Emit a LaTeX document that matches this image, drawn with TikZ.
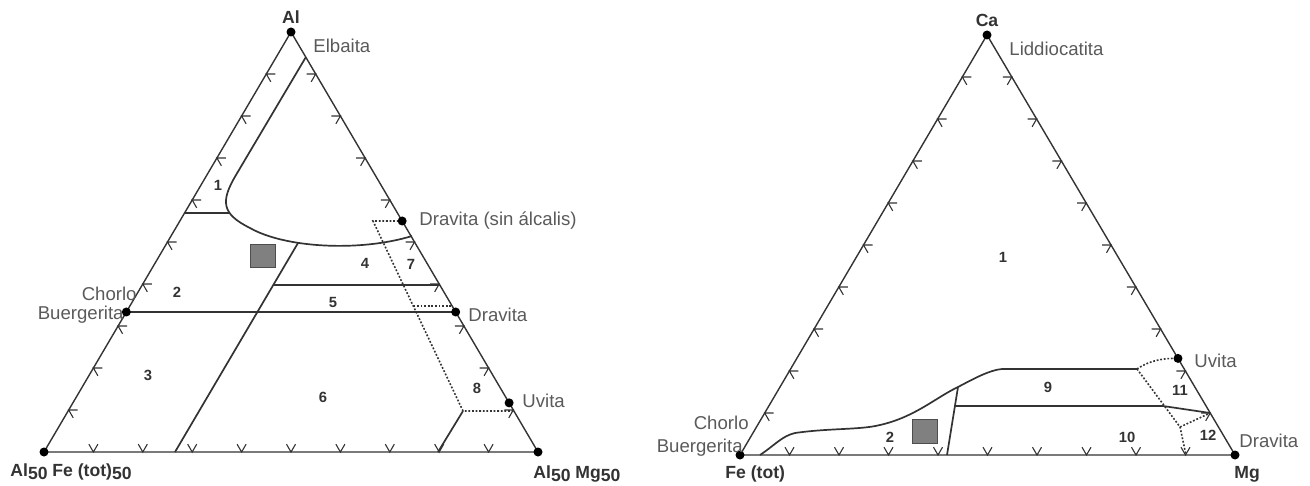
\documentclass[tikz,border=0pt]{standalone}
\usepackage{fontspec}
\setmainfont{Liberation Sans}
\usetikzlibrary{calc,positioning}
\definecolor{inkgray}{HTML}{333333}
\definecolor{namegray}{HTML}{5A5A5A}
\definecolor{boxgray}{HTML}{808080}
\tikzset{
  edgeline/.style={draw=inkgray, line width=0.7pt},
  fieldline/.style={draw=inkgray, line width=0.85pt},
  limitline/.style={draw=inkgray, line width=0.8pt, dash pattern=on 0.9pt off 0.9pt},
  tickmark/.style={draw=inkgray, line width=0.55pt},
  endpt/.style={circle, fill=black, inner sep=0pt, minimum size=4.5pt},
  vertexlab/.style={font=\fontsize{8.8}{10}\selectfont\bfseries, text=inkgray, inner sep=0pt},
  mineral/.style={font=\fontsize{9.3}{11}\selectfont, text=namegray, inner sep=0pt},
  fieldno/.style={font=\fontsize{7.4}{8}\selectfont\bfseries, text=inkgray, inner sep=0pt},
  sample/.style={draw=boxgray!60!black, fill=boxgray, line width=0.5pt},
}
% nine chevrons along an edge, arms at the two given angles
\newcommand{\edgeticks}[4]{%
  \foreach \k in {1,...,9}{%
    \draw[tickmark] ($(#1)!\k/10!(#2)$) ++(#3:9) -- ($(#1)!\k/10!(#2)$) -- ++(#4:9);
  }}
\newcommand{\lowfig}[1]{\raisebox{-0.35ex}{#1}}

\begin{document}
\begin{tikzpicture}[x=0.5pt, y=-0.5pt]
  \useasboundingbox (0,0) rectangle (1310,486);

  % Al - Al50Fe50 - Al50Mg50
  \coordinate (A1) at (291,32);
  \coordinate (L1) at (44,452);
  \coordinate (R1) at (538,452);
  \draw[edgeline] (A1) -- (L1) -- (R1) -- cycle;
  \edgeticks{L1}{A1}{0}{60}
  \edgeticks{L1}{R1}{-60}{-120}
  \edgeticks{A1}{R1}{180}{120}

  \coordinate (elb) at ($(A1)!0.06!(R1)$);
  \coordinate (dsa) at ($(A1)!0.45!(R1)$);
  \coordinate (drv) at ($(A1)!2/3!(R1)$);
  \coordinate (uvi) at ($(A1)!0.883!(R1)$);
  \coordinate (cho) at ($(A1)!2/3!(L1)$);
  \coordinate (knee) at (298,243);
  \coordinate (bend) at (463,411);

  \draw[fieldline] (elb) -- (236,175) .. controls (220,202) and (222,214) .. (250,228)
    .. controls (285,248) and (360,252) .. (412,236);
  \draw[fieldline] (184.6,213) -- (229,213);
  \draw[fieldline] (knee) -- (175,452);
  \draw[fieldline] (273.3,285) -- (439.8,285);
  \draw[fieldline] (cho) -- (drv);
  \draw[fieldline] (bend) -- (438,452);
  \draw[limitline] (dsa) -- (373,221) -- (bend) -- (513.9,411);
  \draw[limitline] (413.3,306) -- (452.1,306);
  \draw[sample] (250,244) rectangle (275,267);

  \node[endpt] (dA1) at (A1) {};
  \node[endpt] (dL1) at (L1) {};
  \node[endpt] (dR1) at (R1) {};
  \node[endpt] (ddsa) at (dsa) {};
  \node[endpt] (ddrv) at (drv) {};
  \node[endpt] (duvi) at (uvi) {};
  \node[endpt] (dcho) at (cho) {};

  \node[vertexlab, above=1.75pt of dA1] (lAl) {Al};
  \node[vertexlab, anchor=base west] (lAlFe) at (10,476) {Al\lowfig{50} Fe (tot)\lowfig{50}};
  \node[vertexlab, anchor=base west] (lAlMg) at (533,478) {Al\lowfig{50} Mg\lowfig{50}};
  \node[mineral, anchor=west] (nelb) at (313,46) {Elbaita};
  \node[mineral, right=6pt of ddsa] (ndsa) {Dravita (sin álcalis)};
  \node[mineral, anchor=west] (ndrv) at (468,315) {Dravita};
  \node[mineral, anchor=west] (nuvi) at (522,401) {Uvita};
  \node[mineral, anchor=east] (ncho) at (137,294) {Chorlo};
  \node[mineral, anchor=east] (nbue) at (124,315) {Buergerita};

  \node[fieldno] (f1) at (218,185) {1};
  \node[fieldno] (f2) at (177,292) {2};
  \node[fieldno] (f3) at (148,375) {3};
  \node[fieldno] (f4) at (365,263) {4};
  \node[fieldno] (f5) at (333,302) {5};
  \node[fieldno] (f6) at (323,397) {6};
  \node[fieldno] (f7) at (411,264) {7};
  \node[fieldno] (f8) at (477,388) {8};

  % Ca - Fe(tot) - Mg
  \coordinate (A2) at (987,35);
  \coordinate (L2) at (740,455);
  \coordinate (R2) at (1235,455);
  \draw[edgeline] (A2) -- (L2) -- (R2) -- cycle;
  \edgeticks{L2}{A2}{0}{60}
  \edgeticks{L2}{R2}{-60}{-120}
  \edgeticks{A2}{R2}{180}{120}

  \coordinate (uvi2) at ($(A2)!0.77!(R2)$);
  \coordinate (edge12) at ($(A2)!0.9!(R2)$);
  \coordinate (top9) at (1137,369);
  \coordinate (hook) at (958,387);
  \coordinate (split) at (1180,427);

  \draw[fieldline] (760,455) .. controls (775,445) and (782,436) .. (795,433)
    .. controls (830,428) and (860,430) .. (880,425)
    .. controls (915,417) and (935,398) .. (hook)
    .. controls (975,378) and (990,370) .. (1002,369) -- (top9);
  \draw[fieldline] (hook) -- (947,455);
  \draw[fieldline] (955,406) -- (1163,406) -- (edge12);
  \draw[limitline] (top9) .. controls (1150,360) and (1165,358) .. (uvi2);
  \draw[limitline] (top9) -- (split) -- (1186,455);
  \draw[limitline] (split) -- (edge12);
  \draw[sample] (912,419) rectangle (937,443);

  \node[endpt] (dA2) at (A2) {};
  \node[endpt] (dL2) at (L2) {};
  \node[endpt] (dR2) at (R2) {};
  \node[endpt] (duvi2) at (uvi2) {};

  \node[vertexlab, above=1.75pt of dA2] (lCa) {Ca};
  \node[vertexlab, anchor=base west] (lFe) at (725,478) {Fe (tot)};
  \node[vertexlab, anchor=base west] (lMg) at (1234,478) {Mg};
  \node[mineral, anchor=west] (nlid) at (1009,49) {Liddiocatita};
  \node[mineral, anchor=west] (nuvi2) at (1194,361) {Uvita};
  \node[mineral, anchor=west] (ndrv2) at (1239,441) {Dravita};
  \node[mineral, anchor=east] (ncho2) at (749,423) {Chorlo};
  \node[mineral, anchor=east] (nbue2) at (743,448) {Buergerita};

  \node[fieldno] (g1) at (1003,257) {1};
  \node[fieldno] (g2) at (890,437) {2};
  \node[fieldno] (g9) at (1048,387) {9};
  \node[fieldno] (g10) at (1127,437) {10};
  \node[fieldno] (g11) at (1180,390) {11};
  \node[fieldno] (g12) at (1208,435) {12};
\end{tikzpicture}
\end{document}
